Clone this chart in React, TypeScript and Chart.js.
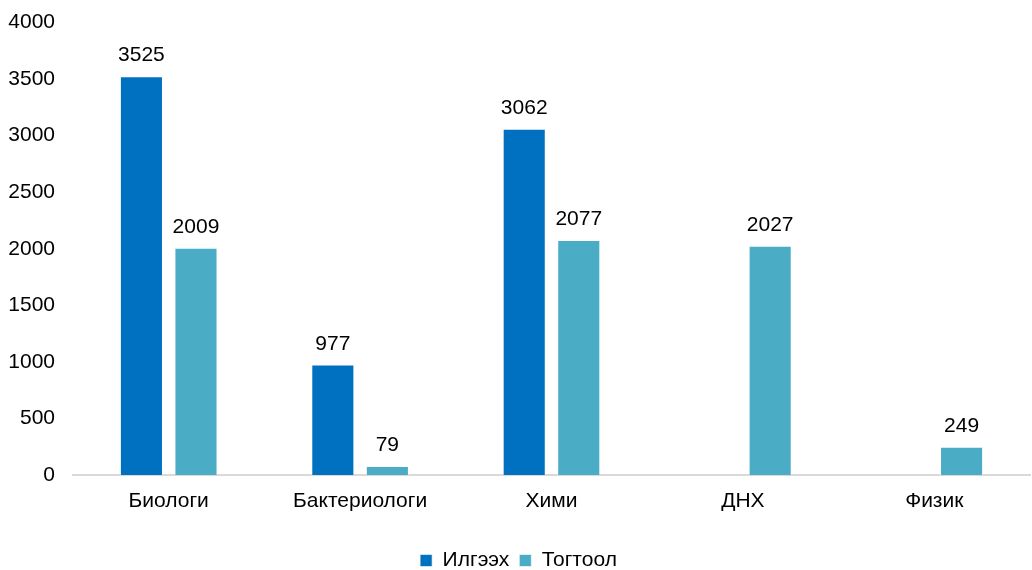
import React, { useEffect, useRef } from "react";
import { Chart, registerables } from "chart.js";

Chart.register(...registerables);

const categories = ["Биологи", "Бактериологи", "Хими", "ДНХ", "Физик"];
const seriesNames = ["Илгээх", "Тогтоол"];
const sentValues: (number | null)[] = [3525, 977, 3062, null, null];
const resolvedValues: (number | null)[] = [2009, 79, 2077, 2027, 249];
const colors = ["#0070C0", "#4BACC6"];

const FONT = "'Liberation Sans', Arial, sans-serif";
const FS = 21;

const labelPlugin = {
  id: "barLabels",
  afterDatasetsDraw(chart: any) {
    const ctx = chart.ctx;
    ctx.save();
    ctx.font = `${FS}px ${FONT}`;
    ctx.fillStyle = "#000000";
    ctx.textAlign = "center";
    ctx.textBaseline = "alphabetic";
    chart.data.datasets.forEach((ds: any, i: number) => {
      const meta = chart.getDatasetMeta(i);
      meta.data.forEach((bar: any, j: number) => {
        const v = ds.data[j];
        if (v === null || v === undefined) return;
        ctx.fillText(String(v), bar.x, bar.y - 15);
      });
    });
    ctx.restore();
  },
};

export default function App() {
  const ref = useRef<HTMLCanvasElement>(null);
  useEffect(() => {
    if (!ref.current) return;
    const chart = new Chart(ref.current, {
      type: "bar",
      data: {
        labels: categories,
        datasets: [
          {
            label: seriesNames[0],
            data: sentValues,
            backgroundColor: colors[0],
            borderColor: "rgba(255,255,255,0.6)",
            borderWidth: 1,
            categoryPercentage: 0.57,
            barPercentage: 0.79,
          },
          {
            label: seriesNames[1],
            data: resolvedValues,
            backgroundColor: colors[1],
            borderColor: "rgba(255,255,255,0.6)",
            borderWidth: 1,
            categoryPercentage: 0.57,
            barPercentage: 0.79,
          },
        ],
      },
      options: {
        animation: false,
        responsive: false,
        maintainAspectRatio: false,
        layout: { padding: { top: 0, right: 2, left: 7, bottom: -11 } },
        plugins: {
          legend: {
            position: "bottom",
            labels: {
              font: { family: FONT, size: FS },
              color: "#000",
              boxWidth: 12,
              boxHeight: 12,
              padding: 10,
            },
          },
          tooltip: { enabled: false },
        },
        scales: {
          x: {
            grid: { display: false },
            border: { display: true, color: "#D9D9D9", width: 2 },
            ticks: {
              font: { family: FONT, size: FS },
              color: "#000",
              padding: 6,
            },
            afterFit: (s: any) => {
              s.height = 65;
            },
          },
          y: {
            min: 0,
            max: 4000,
            grid: { display: false },
            border: { display: false },
            ticks: {
              stepSize: 500,
              font: { family: FONT, size: FS },
              color: "#000",
              padding: 10,
              callback: (v: any) => String(v),
            },
            afterFit: (s: any) => {
              s.width = 66;
            },
          },
        },
      },
      plugins: [labelPlugin],
    });
    return () => chart.destroy();
  }, []);
  return (
    <div style={{ position: "fixed", left: 0, top: 0, width: 1032, height: 570 }}>
      <canvas ref={ref} width={1032} height={570} />
    </div>
  );
}
